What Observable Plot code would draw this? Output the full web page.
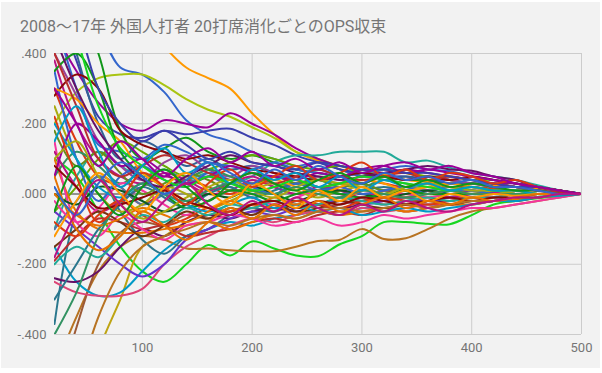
<!DOCTYPE html>
<html><head><meta charset="utf-8">
<script src="https://cdn.jsdelivr.net/npm/d3@7"></script>
<script src="https://cdn.jsdelivr.net/npm/@observablehq/plot@0.6"></script>
<style>
html,body{margin:0;padding:0;background:#fff;width:602px;height:373px;overflow:hidden;}
#frame{position:absolute;left:1px;top:2px;width:599px;height:366px;background:#f2f2f2;}
#title{position:absolute;left:20px;top:19px;font:16px/1 Roboto,"Noto Sans CJK JP",sans-serif;color:#757575;white-space:nowrap;}
#chart{position:absolute;left:0;top:45px;}
</style></head>
<body>
<div id="frame"></div>
<div id="title">2008〜17年 外国人打者 20打席消化ごとのOPS収束</div>
<div id="chart"></div>
<script>
// plate appearances (x)
const pa = [20,40,60,80,100,120,140,160,180,200,220,240,260,280,300,320,340,360,380,400,420,440,460,480,500];
const xTicks = [100,200,300,400,500];
const yTicks = [-0.4,-0.2,0,0.2,0.4];

// OPS deviation from final value, per player
const s01 = [.95,.85,.72,.60,.50,.42,.36,.33,.30,.23,.17,.12,.095,.07,.05,.055,.04,.035,.03,.03,.025,.02,.015,.01,0];
const s02 = [.80,.62,.48,.36,.34,.29,.21,.17,.15,.12,.10,.08,.09,.07,.05,.05,.04,.05,.04,.03,.03,.02,.02,.01,0];
const s03 = [.20,.29,.33,.34,.34,.31,.27,.24,.22,.19,.16,.12,.10,.08,.07,.06,.06,.05,.04,.03,.03,.02,.02,.01,0];
const s04 = [.46,.35,.26,.20,.18,.21,.20,.19,.23,.20,.17,.13,.10,.08,.07,.06,.07,.06,.05,.04,.03,.03,.02,.01,0];
const s05 = [.55,.38,.22,.17,.16,.18,.17,.18,.186,.16,.14,.11,.09,.07,.06,.05,.05,.04,.04,.03,.03,.02,.01,.01,0];
const s06 = [.70,.55,.40,.18,.10,.13,.16,.12,.10,.11,.09,.07,.06,.05,.06,.05,.04,.04,.03,.03,.02,.02,.01,.005,0];
const s07 = [-.10,.05,.12,.08,.05,.07,.04,.06,.03,.05,.09,.11,.11,.12,.12,.12,.09,.095,.075,.06,.05,.04,.025,.01,0];
const s08 = [-.05,.02,.10,.15,.12,.08,.05,.07,.09,.11,.10,.08,.07,.08,.06,.07,.06,.05,.05,.04,.04,.03,.02,.01,0];
const s09 = [.30,.15,.05,.02,-.03,.01,.04,.02,.00,.03,.05,.04,.02,.03,.04,.03,.02,.03,.02,.02,.015,.01,.01,.005,0];
const s10 = [.38,.20,.10,.05,.03,.06,.04,.01,.03,.05,.02,.00,.01,.02,.00,.01,.02,.01,.00,.01,.005,.00,.00,.00,0];
const s11 = [.10,.05,-.05,-.15,-.22,-.25,-.20,-.145,-.175,-.135,-.155,-.175,-.177,-.143,-.12,-.08,-.08,-.085,-.086,-.06,-.03,-.02,-.012,-.005,0];
const s12 = [-.50,-.35,-.22,-.15,-.12,-.13,-.155,-.155,-.16,-.163,-.163,-.15,-.134,-.13,-.10,-.128,-.126,-.10,-.07,-.05,-.04,-.03,-.02,-.01,0];
const s13 = [-.90,-.72,-.45,-.30,-.15,-.12,-.08,-.06,-.05,-.03,-.04,-.02,-.03,-.01,-.02,-.01,.00,-.01,.00,.00,.00,.00,.00,.00,0];
const s14 = [-.60,-.38,-.20,-.11,-.08,-.09,-.06,-.07,-.05,-.04,-.05,-.03,-.04,-.03,-.02,-.03,-.02,-.02,-.01,-.01,-.01,.00,.00,.00,0];
const s15 = [-.15,-.25,-.29,-.28,-.22,-.16,-.12,-.10,-.08,-.09,-.07,-.06,-.05,-.06,-.04,-.04,-.03,-.03,-.03,-.02,-.02,-.01,-.01,.00,0];
const s16 = [-.37,-.05,.05,-.05,-.13,-.17,-.12,-.10,-.06,-.04,-.05,-.02,-.03,-.01,-.02,.00,-.01,.01,.00,.00,.01,.00,.00,.00,0];
const s17 = [-.25,-.28,-.29,-.29,-.27,-.20,-.15,-.12,-.09,-.07,-.08,-.06,-.05,-.06,-.04,-.05,-.04,-.03,-.03,-.02,-.02,-.01,-.01,.00,0];
const s18 = [-.24,-.25,-.22,-.15,-.10,-.12,-.08,-.06,-.07,-.05,-.04,-.05,-.03,-.04,-.03,-.02,-.03,-.02,-.02,-.01,-.01,-.01,.00,.00,0];
const s19 = [-.05,-.10,-.15,-.20,-.235,-.20,-.13,-.10,-.07,-.05,-.06,-.04,-.03,-.02,-.03,-.02,-.01,-.02,-.01,.00,.00,.00,.00,.00,0];
const s20 = [-.19,-.12,-.07,-.08,-.10,-.09,-.12,-.11,-.10,-.08,-.07,-.08,-.06,-.05,-.06,-.04,-.05,-.04,-.03,-.03,-.02,-.02,-.01,-.005,0];
const s21 = [.10,-.05,-.10,-.11,-.11,-.10,-.09,-.08,-.10,-.08,-.06,-.07,-.05,-.06,-.05,-.04,-.05,-.04,-.03,-.03,-.02,-.015,-.01,-.005,0];
const s22 = [.15,-.08,-.12,-.06,-.10,-.13,-.09,-.08,-.06,-.07,-.09,-.08,-.07,-.09,-.08,-.06,-.07,-.06,-.05,-.04,-.04,-.03,-.02,-.01,0];
const s23 = [.60,.40,.20,.10,.15,.12,.08,.10,.07,.08,.06,.05,.07,.05,.06,.04,.05,.04,.03,.03,.02,.02,.01,.01,0];
const s24 = [.40,.28,.15,.08,.04,.09,.11,.07,.05,.08,.06,.03,.05,.04,.03,.05,.04,.05,.04,.03,.02,.02,.01,.005,0];
const s25 = [.50,.30,.14,.12,.10,.14,.12,.09,.08,.07,.09,.07,.06,.05,.06,.07,.08,.07,.065,.05,.04,.03,.02,.01,0];
const s26 = [.28,.34,.30,.18,.14,.12,.10,.11,.09,.07,.06,.05,.04,.05,.06,.05,.04,.05,.04,.05,.04,.03,.02,.01,0];
const s27 = [.05,.12,.08,.03,.06,.02,.04,.07,.05,.03,.04,.06,.04,.03,.02,.04,.03,.02,.03,.02,.01,.01,.01,.00,0];
const s28 = [-.10,-.02,.05,.02,-.03,.00,.03,.05,.02,.00,.02,.03,.01,.02,.03,.01,.02,.01,.02,.01,.01,.00,.00,.00,0];
const s29 = [.12,.02,-.05,-.02,.02,.05,.03,.00,.01,.04,.02,.00,.02,.01,-.01,.01,.00,.01,-.01,.00,.00,.00,.00,.00,0];
const s30 = [-.02,-.08,-.04,.03,.01,-.03,-.06,-.02,.01,-.01,-.03,-.01,.01,.00,-.02,-.01,.00,-.01,.00,-.01,.00,.00,.00,.00,0];
const s31 = [.25,.10,.00,-.05,-.03,.02,.00,-.04,-.02,.01,.03,.01,-.01,.01,.02,.00,.01,.02,.01,.00,.01,.00,.00,.00,0];
const s32 = [-.30,-.20,-.10,-.03,.02,-.01,-.04,.00,.02,-.01,.01,.03,.02,.00,.01,.02,.01,.00,.01,.01,.00,.00,.00,.00,0];
const s33 = [.18,.08,.12,.06,.00,.03,.06,.04,.01,.02,.05,.03,.04,.02,.03,.01,.02,.03,.01,.02,.01,.01,.00,.00,0];
const s34 = [.00,-.03,.02,.01,-.02,-.05,-.03,.00,-.01,.02,.00,-.02,.00,.01,.00,-.01,.00,.01,.00,.00,.00,.00,.00,.00,0];
const s35 = [-.15,-.10,-.05,-.08,-.12,-.09,-.05,-.07,-.04,-.06,-.03,-.05,-.04,-.02,-.03,-.04,-.03,-.02,-.03,-.02,-.02,-.01,-.01,.00,0];
const s36 = [.35,.10,-.02,.05,.08,.04,.02,.06,.04,.02,.00,.03,.01,.02,.00,.01,.02,.00,.01,.01,.00,.00,.00,.00,0];
const s37 = [-.08,-.12,-.06,-.02,-.06,-.09,-.07,-.04,-.05,-.03,-.04,-.02,-.03,-.04,-.02,-.01,-.02,-.03,-.02,-.01,-.01,.00,.00,.00,0];
const s38 = [.30,.27,.20,.15,.06,.02,-.02,-.04,-.01,.02,.04,.02,.00,.02,.04,.03,.01,.02,.03,.02,.01,.01,.00,.00,0];
const s39 = [.35,.40,.30,.12,.05,.00,-.04,-.02,.01,.00,-.02,.00,.01,.00,-.01,.00,.01,.00,.00,.00,.00,.00,.00,.00,0];
const s40 = [.05,.20,.15,.08,.10,.06,.03,.05,.08,.06,.05,.04,.06,.05,.07,.08,.06,.07,.06,.05,.04,.03,.02,.01,0];
const s41 = [.20,.10,.02,-.01,.03,.00,-.03,-.05,-.03,-.01,-.04,-.03,-.05,-.04,-.06,-.05,-.04,-.05,-.04,-.03,-.02,-.02,-.01,-.005,0];
const s42 = [.00,-.06,-.09,-.07,-.04,-.06,-.08,-.05,-.02,-.04,-.01,-.03,.00,-.02,.01,.00,-.01,.00,.01,.00,.00,.00,.00,.00,0];
const s43 = [.40,.25,.10,.05,.08,.11,.09,.06,.04,.06,.03,.05,.07,.05,.04,.05,.06,.04,.05,.04,.03,.02,.01,.005,0];
const s44 = [-.20,-.15,-.18,-.12,-.06,-.08,-.04,-.06,-.03,-.04,-.02,-.04,-.03,-.01,-.02,-.03,-.02,-.01,-.02,-.01,-.01,.00,.00,.00,0];
const s45 = [.10,.15,.05,-.03,-.07,-.05,-.01,.02,.04,.01,-.01,.02,.04,.03,.02,.00,.02,.03,.02,.01,.01,.00,.00,.00,0];
const s46 = [.08,.02,-.04,-.03,-.01,.01,-.02,-.04,-.06,-.03,-.02,-.04,-.02,-.03,-.01,-.02,-.03,-.02,-.01,-.02,-.01,-.01,.00,.00,0];
const s47 = [.45,.30,.18,.10,.04,.02,.05,.08,.11,.09,.08,.06,.05,.04,.05,.06,.07,.08,.07,.066,.05,.04,.02,.01,0];
const s48 = [-.40,-.28,-.12,-.02,.03,.00,-.02,.01,.03,.01,.00,.02,.00,-.01,.01,.00,-.01,.00,.01,.00,.00,.00,.00,.00,0];
const s49 = [.65,.45,.25,.13,.08,.04,.02,.05,.03,.01,.02,.04,.02,.03,.05,.04,.03,.02,.01,.02,.01,.01,.00,.00,0];
const s50 = [.55,.48,.30,.20,.15,.18,.14,.10,.12,.09,.08,.07,.09,.08,.07,.07,.06,.06,.05,.04,.03,.02,.02,.01,0];
const s51 = [-.80,-.55,-.35,-.22,-.15,-.12,-.10,-.08,-.09,-.07,-.06,-.07,-.05,-.04,-.05,-.04,-.03,-.04,-.03,-.02,-.02,-.01,-.01,.00,0];
const s52 = [.22,.05,-.08,-.02,.06,.02,-.03,.03,.07,.02,.05,.08,.04,.06,.09,.05,.07,.04,.06,.05,.03,.04,.02,.01,0];
const s53 = [.15,.25,.12,.02,.08,.13,.06,.09,.03,.07,.04,.06,.02,.05,.01,.04,.02,.03,.01,.02,.01,.01,.00,.00,0];
const s54 = [-.12,-.02,.06,.00,-.05,.02,.06,.01,-.03,.03,.00,-.04,.01,-.02,.02,-.01,.01,-.02,.00,-.01,.00,-.005,.00,.00,0];
const s55 = [.30,.20,.08,.15,.10,.05,.10,.13,.09,.12,.08,.10,.07,.09,.06,.08,.09,.07,.08,.06,.05,.03,.02,.01,0];
const s56 = [-.05,.08,.00,-.06,.02,.07,.02,-.02,.03,.06,.03,.01,.04,.06,.03,.05,.02,.04,.02,.03,.02,.01,.01,.00,0];
const s57 = [.05,-.10,-.16,-.12,-.05,-.09,-.13,-.08,-.04,-.07,-.03,-.06,-.02,-.05,-.03,-.01,-.04,-.02,-.03,-.01,-.02,-.01,.00,.00,0];
const s58 = [.02,-.06,.03,.09,.05,.00,.04,.09,.06,.03,.07,.04,.08,.05,.03,.06,.04,.05,.03,.04,.02,.02,.01,.00,0];
const s59 = [-.18,-.05,.04,-.03,-.08,-.02,.03,-.03,-.06,-.02,-.05,-.01,-.04,-.06,-.03,-.05,-.02,-.04,-.05,-.03,-.02,-.01,-.01,.00,0];

const seriesList = [s01,s02,s03,s04,s05,s06,s07,s08,s09,s10,s11,s12,s13,s14,s15,s16,s17,s18,s19,s20,
  s21,s22,s23,s24,s25,s26,s27,s28,s29,s30,s31,s32,s33,s34,s35,s36,s37,s38,s39,s40,
  s41,s42,s43,s44,s45,s46,s47,s48,s49,s50,s51,s52,s53,s54,s55,s56,s57,s58,s59];

const palette = ["#ff9900","#3366cc","#a9c413","#990099","#3b3eac","#109618","#22aa99","#66aa00","#dc3912","#b91383",
  "#16d620","#b77322","#bea413","#9c5935","#0099c6","#2a778d","#dd4477","#651067","#6633cc","#b82e2e",
  "#e67300","#f4359e","#316395","#994499","#3366cc","#8b0707","#329262","#5574a6","#b91383","#f4359e",
  "#aaaa11","#2a778d","#668d1c","#0c5922","#743411","#3366cc","#dc3912","#ff9900","#109618","#990099",
  "#0099c6","#e67300","#b82e2e","#22aa99","#aaaa11","#8b0707","#651067","#329262","#16d620","#3b3eac","#b77322",
  "#dc3912","#0099c6","#ff9900","#990099","#109618","#e67300","#3366cc","#b91383"];

const names = seriesList.map((_, i) => "p" + (i + 1));
const rows = seriesList.flatMap((vals, i) => vals.map((v, j) => ({name: names[i], pa: pa[j], ops: v})));

const f3 = d3.formatLocale({decimal: ".", thousands: ",", grouping: [3], currency: ["", ""], minus: "-"}).format(".3f");
const fmt = d => f3(d).replace(/^(-?)0\./, "$1.");

const chart = Plot.plot({
  width: 602,
  height: 323,
  marginTop: 8,
  marginBottom: 34,
  marginLeft: 54,
  marginRight: 21,
  style: {background: "transparent", fontFamily: "Roboto, sans-serif", fontSize: "13px", color: "#757575"},
  x: {domain: [20, 500], ticks: xTicks, tickSize: 0, tickPadding: 8, label: null},
  y: {domain: [-0.4, 0.4], ticks: yTicks, tickFormat: fmt, tickSize: 0, tickPadding: 8, label: null},
  color: {domain: names, range: palette},
  marks: [
    Plot.ruleX(xTicks, {stroke: "#cccccc", strokeWidth: 1}),
    Plot.ruleY(yTicks.filter(d => d !== 0), {stroke: "#cccccc", strokeWidth: 1}),
    Plot.ruleY([0], {stroke: "#333333", strokeWidth: 1}),
    Plot.line(rows, {x: "pa", y: "ops", z: "name", stroke: "name", curve: "catmull-rom", strokeWidth: 2, clip: true})
  ]
});
document.getElementById("chart").appendChild(chart);
</script>
</body></html>
